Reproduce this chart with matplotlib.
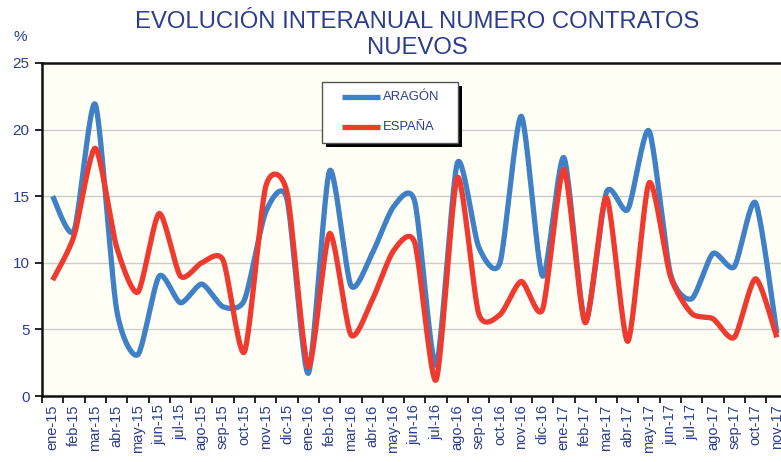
import numpy as np
import matplotlib
matplotlib.use("Agg")
import matplotlib.pyplot as plt
from matplotlib.patches import Rectangle
from matplotlib.lines import Line2D

plt.rcParams['font.family'] = ['Liberation Sans', 'DejaVu Sans']

months = ["ene-15", "feb-15", "mar-15", "abr-15", "may-15", "jun-15", "jul-15", "ago-15",
          "sep-15", "oct-15", "nov-15", "dic-15", "ene-16", "feb-16", "mar-16", "abr-16",
          "may-16", "jun-16", "jul-16", "ago-16", "sep-16", "oct-16", "nov-16", "dic-16",
          "ene-17", "feb-17", "mar-17", "abr-17", "may-17", "jun-17", "jul-17", "ago-17",
          "sep-17", "oct-17", "nov-17"]
aragon = [15.0, 12.4, 21.9, 6.5, 3.1, 9.0, 7.0, 8.4, 6.7, 7.2, 13.8, 14.8,
          1.7, 16.9, 8.3, 10.7, 14.2, 14.6, 2.3, 17.5, 11.2, 10.0, 21.0, 9.0,
          17.9, 5.6, 15.3, 14.0, 19.9, 9.2, 7.3, 10.7, 9.7, 14.5, 4.7]
espana = [8.7, 12.0, 18.6, 11.2, 7.8, 13.7, 9.0, 10.0, 10.2, 3.3, 15.7, 15.3,
          2.2, 12.2, 4.6, 7.2, 10.9, 11.5, 1.2, 16.4, 6.2, 6.1, 8.6, 6.5,
          17.0, 5.5, 14.9, 4.1, 16.0, 9.0, 6.2, 5.8, 4.4, 8.8, 4.4]
series_names = ["ARAGÓN", "ESPAÑA"]
yticks = [0, 5, 10, 15, 20, 25]

BLUE = "#3f80c6"
RED = "#ef3b2f"
TXT = "#2b3d8c"
W, H = 781, 462


def smooth(y, n=24, k=0.36):
    """Cardinal spline through the points (smoothed line like the original)."""
    y = np.asarray(y, float)
    x = np.arange(len(y), dtype=float)
    P = np.column_stack([x, y])
    P = np.vstack([P[0], P, P[-1]])
    out = []
    t = np.linspace(0, 1, n, endpoint=False)[:, None]
    h00 = 2 * t ** 3 - 3 * t ** 2 + 1
    h10 = t ** 3 - 2 * t ** 2 + t
    h01 = -2 * t ** 3 + 3 * t ** 2
    h11 = t ** 3 - t ** 2
    for i in range(1, len(P) - 2):
        p0, p1, p2, p3 = P[i - 1], P[i], P[i + 1], P[i + 2]
        m1 = k * (p2 - p0)
        m2 = k * (p3 - p1)
        out.append(h00 * p1 + h10 * m1 + h01 * p2 + h11 * m2)
    out.append(P[-2][None, :])
    out = np.vstack(out)
    return out[:, 0], out[:, 1]


def fx(px):
    return px / W


def fy(py):
    return 1 - py / H


fig = plt.figure(figsize=(W / 100, H / 100), dpi=100)
ax = fig.add_axes([fx(42), fy(396), 745.5 / W, 333 / H])
ax.set_facecolor("#fffff6")

xa, ya = smooth(aragon)
xe, ye = smooth(espana)
ax.plot(xa, ya, color=BLUE, lw=3.8, solid_capstyle='butt', zorder=3)
ax.plot(xe, ye, color=RED, lw=3.8, solid_capstyle='butt', zorder=4)

ax.set_xlim(-0.5, len(months) - 0.5)
ax.set_ylim(0, 25)
ax.set_yticks(yticks)
ax.set_yticklabels([str(v) for v in yticks], color=TXT, fontsize=11)
ax.yaxis.grid(True, color="#cccccc", lw=1)
ax.set_axisbelow(True)

ax.set_xticks(np.arange(len(months)))
ax.set_xticklabels(months, rotation=90, color=TXT, fontsize=10.5)
ax.set_xticks(np.arange(len(months) + 1) - 0.5, minor=True)
ax.tick_params(axis='x', which='major', length=0, pad=6)
ax.tick_params(axis='x', which='minor', length=5, width=1.2, direction='out')
ax.tick_params(axis='y', length=5, width=1.2, direction='out', pad=4)
for s in ax.spines.values():
    s.set_linewidth(1.8)
    s.set_color("#111111")

# legend box with black drop shadow
bx0, by0, bx1, by1 = 322, 82, 458, 143
fig.add_artist(Rectangle((fx(bx0 + 4), fy(by1 + 4)), (bx1 - bx0) / W, (by1 - by0) / H,
                         transform=fig.transFigure, facecolor='black', edgecolor='none', zorder=10))
fig.add_artist(Rectangle((fx(bx0), fy(by1)), (bx1 - bx0) / W, (by1 - by0) / H,
                         transform=fig.transFigure, facecolor='white', edgecolor='#555555',
                         lw=1, zorder=11))
for name, col, yy in zip(series_names, [BLUE, RED], [97, 127]):
    fig.add_artist(Line2D([fx(342), fx(380)], [fy(yy), fy(yy)], transform=fig.transFigure,
                          color=col, lw=3.8, solid_capstyle='butt', zorder=12))
    fig.text(fx(383), fy(yy), name, color=TXT, fontsize=9.4, ha='left', va='center',
             zorder=12)

fig.text(0.534, fy(22), "EVOLUCIÓN INTERANUAL NUMERO CONTRATOS", ha='center',
         va='center', color=TXT, fontsize=17.2)
fig.text(0.534, fy(48), "NUEVOS", ha='center', va='center', color=TXT, fontsize=17.2)
fig.text(0.026, 0.905, "%", color=TXT, fontsize=11, ha='center', va='bottom')

fig.savefig("out.png", dpi=100)
